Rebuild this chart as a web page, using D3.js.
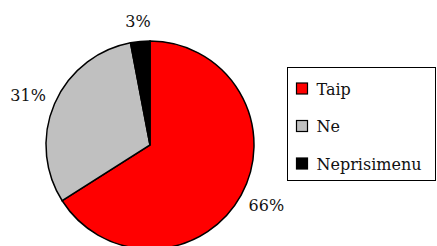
<!DOCTYPE html>
<html>
<head>
  <meta charset="utf8">
  <style type="text/css">
    body { margin: 0; background: #fff; }
  </style>
</head>
<body>
<script src="https://d3js.org/d3.v7.min.js"></script>
<script type="text/javascript">
var categories = ['Taip', 'Ne', 'Neprisimenu'];
var values = [66, 31, 3];
var colors = ['#ff0000', '#c0c0c0', '#000000'];

var width = 437, height = 246, radius = 104;
var font = 'DejaVu Serif';

var svg = d3.select('body').append('svg')
    .attr('width', width)
    .attr('height', height)
    .attr('font-family', font);

var g = svg.append('g')
    .attr('transform', 'translate(' + [150, 145] + ')');

var pie = d3.pie().sort(null).value(function(d) { return d; });
var arc = d3.arc().innerRadius(0).outerRadius(radius);

var arcs = pie(values);

g.selectAll('path')
  .data(arcs)
  .enter().append('path')
  .attr('d', arc)
  .style('fill', function(d, i) { return colors[i]; })
  .style('stroke', '#000')
  .style('stroke-width', 1.5);

// labels sit just outside the rim, box pushed out along the mid angle
var labelR = 115;
g.selectAll('.lbl')
  .data(arcs)
  .enter().append('text')
  .attr('class', 'lbl')
  .attr('text-anchor', 'middle')
  .attr('dy', '0.35em')
  .attr('font-size', 16)
  .attr('fill', '#111')
  .text(function(d) { return d.data + '%'; })
  .attr('transform', function(d) {
    var a = (d.startAngle + d.endAngle) / 2,
        s = Math.sin(a), c = Math.cos(a),
        bb = this.getBBox();
    var x = labelR * s + bb.width / 2 * s,
        y = -labelR * c - bb.height / 2 * c;
    return 'translate(' + x + ',' + y + ')';
  });

// legend
var legend = svg.append('g').attr('transform', 'translate(287.5,67.5)');
legend.append('rect')
  .attr('width', 148).attr('height', 113)
  .style('fill', '#fff').style('stroke', '#000').style('stroke-width', 1);

var item = legend.selectAll('.item')
  .data(categories)
  .enter().append('g')
  .attr('class', 'item')
  .attr('transform', function(d, i) { return 'translate(9,' + (21 + i * 37.5) + ')'; });

item.append('rect')
  .attr('x', 0).attr('y', -5.5)
  .attr('width', 11).attr('height', 11)
  .style('fill', function(d, i) { return colors[i]; })
  .style('stroke', '#000').style('stroke-width', 1.2);

item.append('text')
  .attr('x', 20).attr('dy', '0.38em')
  .attr('font-size', 16)
  .attr('fill', '#111')
  .text(function(d) { return d; });
</script>
</body>
</html>
